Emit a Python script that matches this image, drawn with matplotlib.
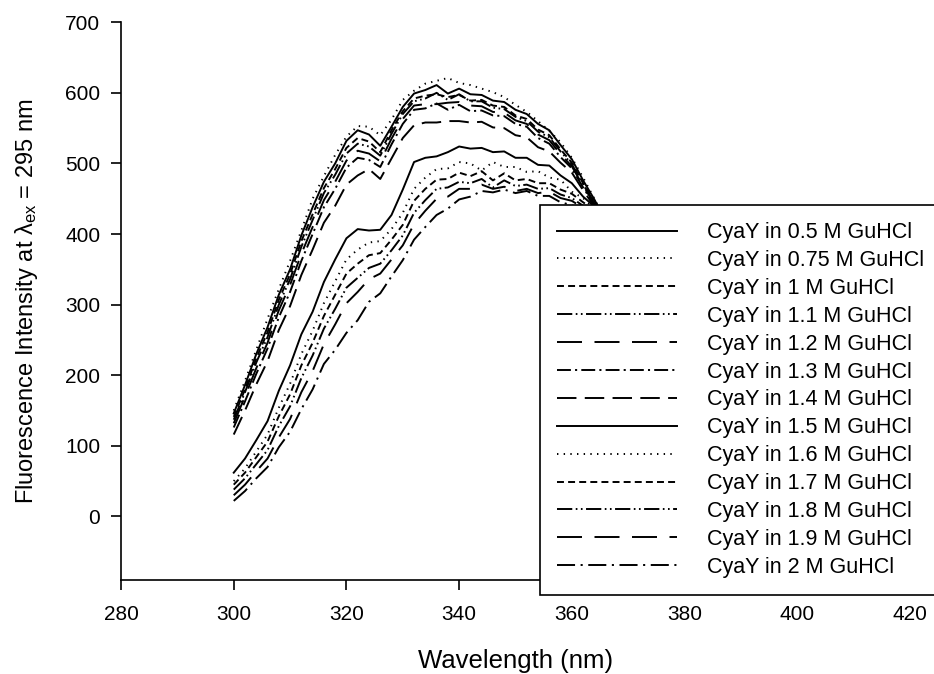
import matplotlib
matplotlib.use("Agg")
import matplotlib.pyplot as plt
import numpy as np

plt.rcParams['font.family'] = ['Liberation Sans', 'DejaVu Sans']
plt.rcParams['mathtext.fontset'] = 'custom'
plt.rcParams['mathtext.rm'] = 'Liberation Sans'
plt.rcParams['mathtext.it'] = 'Liberation Sans'
plt.rcParams['lines.scale_dashes'] = False

wavelength = [300, 302, 304, 306, 308, 310, 312, 314, 316, 318, 320, 322, 324, 326, 328, 330, 332, 334,
              336, 338, 340, 342, 344, 346, 348, 350, 352, 354, 356, 358, 360, 362, 364, 366, 368, 370]

labels = ["CyaY in 0.5 M GuHCl", "CyaY in 0.75 M GuHCl", "CyaY in 1 M GuHCl", "CyaY in 1.1 M GuHCl",
          "CyaY in 1.2 M GuHCl", "CyaY in 1.3 M GuHCl", "CyaY in 1.4 M GuHCl", "CyaY in 1.5 M GuHCl",
          "CyaY in 1.6 M GuHCl", "CyaY in 1.7 M GuHCl", "CyaY in 1.8 M GuHCl", "CyaY in 1.9 M GuHCl",
          "CyaY in 2 M GuHCl"]

gu_0_5 = [146, 186, 230, 268, 314, 350, 398, 438, 474, 500, 532, 547, 541, 525, 552, 580, 599, 604,
          611, 599, 606, 598, 597, 589, 587, 576, 570, 556, 547, 526, 506, 476, 449, 418, 388, 360]
gu_0_75 = [150, 192, 236, 280, 322, 362, 405, 450, 482, 512, 538, 553, 552, 540, 562, 590, 603, 613,
           617, 621, 614, 611, 606, 601, 594, 583, 573, 560, 546, 530, 508, 480, 450, 420, 390, 360]
gu_1 = [141, 180, 224, 261, 307, 343, 390, 428, 465, 492, 522, 536, 531, 516, 547, 574, 592, 596,
        598, 594, 597, 589, 590, 582, 580, 568, 563, 548, 540, 520, 501, 472, 447, 416, 386, 358]
gu_1_1 = [137, 176, 218, 254, 300, 336, 382, 420, 458, 484, 514, 528, 524, 511, 542, 570, 588, 592,
          600, 590, 598, 588, 588, 579, 577, 566, 560, 545, 537, 517, 499, 470, 445, 414, 384, 356]
gu_1_2 = [132, 170, 210, 246, 292, 328, 372, 410, 448, 474, 504, 518, 514, 503, 535, 563, 582, 584,
          584, 586, 587, 582, 581, 573, 572, 561, 556, 541, 533, 513, 496, 468, 443, 412, 382, 354]
gu_1_3 = [126, 163, 202, 238, 282, 318, 362, 400, 438, 464, 494, 508, 505, 495, 527, 556, 576, 578,
          585, 576, 583, 574, 575, 568, 567, 556, 552, 536, 528, 509, 493, 466, 441, 410, 380, 352]
gu_1_4 = [116, 150, 187, 220, 264, 298, 342, 378, 416, 440, 470, 483, 492, 478, 507, 536, 554, 558,
          558, 560, 560, 558, 559, 551, 550, 540, 537, 523, 517, 501, 487, 462, 439, 408, 378, 350]
gu_1_5 = [62, 82, 108, 135, 178, 214, 258, 290, 332, 364, 394, 407, 405, 406, 427, 463, 502, 508,
          510, 516, 524, 521, 522, 516, 517, 508, 508, 498, 497, 483, 472, 453, 439, 415, 390, 365]
gu_1_6 = [50, 68, 92, 116, 154, 188, 230, 263, 302, 333, 364, 378, 388, 390, 407, 430, 464, 480,
          492, 493, 502, 500, 490, 502, 495, 495, 488, 489, 480, 477, 460, 451, 436, 415, 390, 365]
gu_1_7 = [45, 62, 84, 106, 142, 173, 214, 246, 284, 314, 344, 358, 370, 373, 392, 413, 447, 464,
          477, 478, 487, 482, 489, 476, 486, 476, 478, 472, 472, 463, 457, 445, 434, 413, 388, 363]
gu_1_8 = [38, 54, 74, 94, 128, 156, 196, 228, 266, 294, 324, 338, 352, 358, 377, 398, 430, 448,
          464, 466, 474, 472, 478, 466, 476, 468, 470, 464, 465, 456, 451, 440, 431, 411, 387, 362]
gu_1_9 = [30, 45, 64, 82, 112, 138, 176, 206, 244, 272, 302, 318, 336, 344, 364, 384, 414, 433,
          450, 453, 464, 464, 470, 464, 467, 461, 464, 458, 460, 451, 447, 437, 428, 409, 385, 360]
gu_2 = [22, 36, 54, 70, 98, 120, 152, 180, 216, 236, 260, 278, 304, 316, 340, 363, 392, 410,
        427, 436, 449, 453, 461, 459, 463, 458, 461, 454, 454, 445, 441, 431, 422, 405, 382, 358]

series = [gu_0_5, gu_0_75, gu_1, gu_1_1, gu_1_2, gu_1_3, gu_1_4,
          gu_1_5, gu_1_6, gu_1_7, gu_1_8, gu_1_9, gu_2]

styles = [
    '-',
    (0, (1.0, 3.8)),
    (0, (5, 3)),
    (0, (11, 2.5, 1.2, 2.5, 1.2, 2.5)),
    (0, (18, 9)),
    (0, (10, 3, 1.5, 3)),
    (0, (14, 6)),
    '-',
    (0, (1.0, 3.8)),
    (0, (5, 3)),
    (0, (11, 2.5, 1.2, 2.5, 1.2, 2.5)),
    (0, (18, 9)),
    (0, (13, 4, 1.5, 4)),
]

fig = plt.figure(figsize=(9.34, 6.74), dpi=100)
ax = fig.add_axes([0.1296, 0.1395, 0.8446, 0.8275])

for y, lab, ls in zip(series, labels, styles):
    ax.plot(wavelength, y, color='black', lw=1.4, linestyle=ls, label=lab)

ax.set_xlim(280, 420)
ax.set_ylim(-90, 700)
ax.set_xticks([280, 300, 320, 340, 360, 380, 400, 420])
ax.set_yticks([0, 100, 200, 300, 400, 500, 600, 700])
ax.spines['top'].set_visible(False)
ax.spines['right'].set_visible(False)
for s in ['left', 'bottom']:
    ax.spines[s].set_linewidth(1.2)
ax.tick_params(direction='out', length=7, width=1.2, labelsize=15)
ax.tick_params(axis='x', pad=11)
ax.tick_params(axis='y', pad=8)

ax.set_xlabel('Wavelength (nm)', fontsize=18.5, labelpad=18)
ax.set_ylabel(r'Fluorescence Intensity at $\lambda_{\mathrm{ex}}$ = 295 nm', fontsize=17, labelpad=18)

leg = ax.legend(loc='upper left', bbox_to_anchor=(0.578, 0.696), bbox_transform=fig.transFigure,
                borderaxespad=0, fontsize=15.5, handlelength=5.57, handletextpad=1.39,
                borderpad=0.8, labelspacing=0.32, fancybox=False, framealpha=1, frameon=True)
leg.get_frame().set_edgecolor('black')
leg.get_frame().set_linewidth(1.2)

fig.savefig('out.png', dpi=100)
